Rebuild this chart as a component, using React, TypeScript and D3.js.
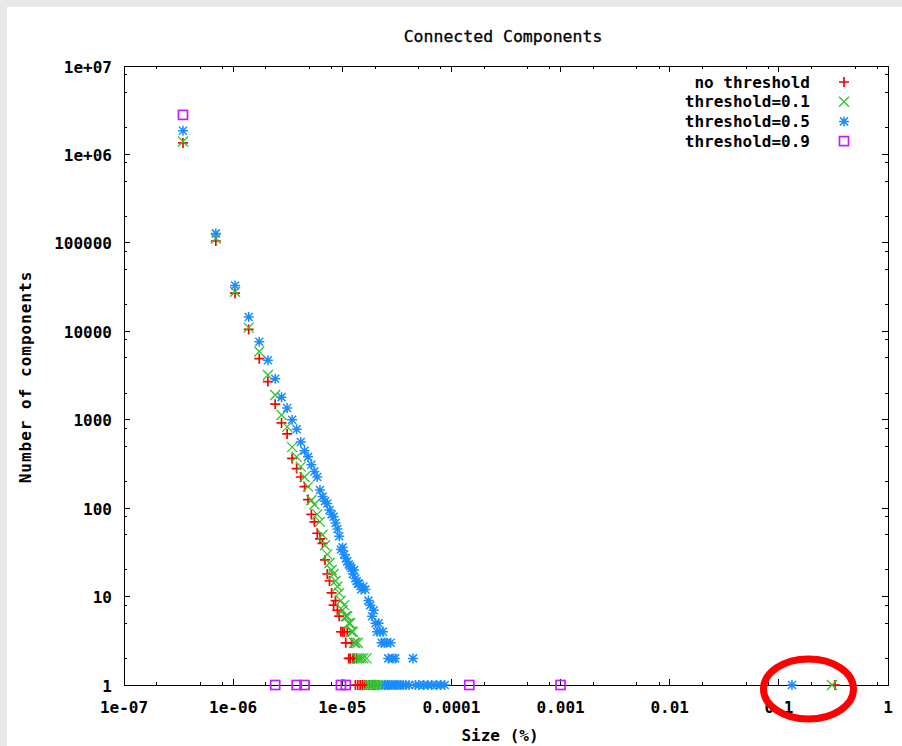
import React from "react";
import * as d3 from "d3";

// percent of all nodes taken by a single node
const UNIT_PCT = 3.47e-7;

// component size (nodes) and number of components of that size
const noThresholdSizes = [
  1, 2, 3, 4, 5, 6, 7, 8, 9, 10, 11, 12, 13, 14, 15, 16, 17, 18, 19, 20, 21, 22, 23, 24, 25, 26, 27, 28, 29, 30,
  31, 32, 33, 34, 35, 36, 37, 38, 39, 40, 42, 44, 46, 48, 51, 54, 58, 62, 942000,
];
const noThresholdCounts = [
  1350000, 105000, 27000, 10500, 4900, 2700, 1500, 920, 690, 365, 280, 225, 175, 125, 85, 70, 52, 45, 40, 26, 18, 15,
  11, 8, 9, 7, 6, 4, 4, 4, 3, 4, 2, 2, 3, 2, 2, 1, 2, 1, 1, 1, 1, 1, 1, 1, 1, 1, 1,
];

const t01Sizes = [
  1, 2, 3, 4, 5, 6, 7, 8, 9, 10, 11, 12, 13, 14, 15, 16, 17, 18, 19, 20, 21, 22, 23, 24, 25, 26, 27, 28, 29, 30, 31,
  32, 33, 34, 35, 36, 37, 38, 39, 40, 41, 43, 45, 48, 50, 52, 55, 58, 61, 64, 68, 884000,
];
const t01Counts = [
  1400000, 112000, 28000, 11000, 5900, 3200, 1900, 1130, 830, 490, 380, 295, 225, 175, 123, 110, 85, 70, 50, 38, 30,
  24, 20, 18, 15, 13, 11, 9, 7, 8, 6, 6, 5, 5, 4, 4, 3, 3, 2, 3, 2, 2, 2, 2, 1, 1, 1, 1, 1, 1, 1, 1,
];

const t05Sizes = [
  1, 2, 3, 4, 5, 6, 7, 8, 9, 10, 11, 12, 13, 14, 15, 16, 17, 18, 19, 20, 21, 22, 23, 24, 25, 26, 27, 28, 29, 30, 31,
  32, 33, 34, 35, 36, 37, 38, 39, 40, 41, 43, 45, 47, 50, 52, 54, 56, 58, 60, 62, 64, 66, 68, 70, 71, 73, 75, 76, 78,
  80, 82, 84, 86, 88, 90, 93, 98, 104, 110, 118, 128, 135, 145, 160, 175, 190, 210, 230, 250, 380000,
];
const t05Counts = [
  1850000, 128000, 33000, 14500, 7600, 4700, 2900, 1800, 1360, 1000, 780, 560, 445, 380, 310, 260, 225, 160, 135, 120,
  113, 95, 85, 80, 68, 58, 48, 34, 36, 30, 27, 25, 23, 22, 21, 18, 20, 16, 15, 14, 14, 12, 13, 12, 9, 8, 6, 7, 5, 4,
  5, 4, 3, 4, 3, 1, 3, 1, 2, 1, 3, 1, 2, 1, 2, 1, 1, 1, 1, 1, 1, 2, 1, 1, 1, 1, 1, 1, 1, 1, 1,
];

const t09Sizes = [1, 7, 11, 13, 28, 31, 420, 2880];
const t09Counts = [2800000, 1, 1, 1, 1, 1, 1, 1];

const seriesNames = ["no threshold", "threshold=0.1", "threshold=0.5", "threshold=0.9"];
const seriesColors = ["#ff0000", "#2ec42e", "#1a8cff", "#c020ff"];
const seriesShapes = ["plus", "cross", "star", "square"];

const xTickValues = [1e-7, 1e-6, 1e-5, 1e-4, 1e-3, 1e-2, 1e-1, 1];
const xTickLabels = ["1e-07", "1e-06", "1e-05", "0.0001", "0.001", "0.01", "0.1", "1"];
const yTickValues = [1, 10, 100, 1000, 10000, 100000, 1e6, 1e7];
const yTickLabels = ["1", "10", "100", "1000", "10000", "100000", "1e+06", "1e+07"];
const minorSteps = [2, 5, 8];

const W = 902;
const H = 746;
const plot = { left: 124, right: 888, top: 66, bottom: 685 };
const FONT = "'DejaVu Sans Mono', 'Liberation Mono', monospace";

const Marker = ({ shape, x, y, color }) => {
  const s = 5;
  if (shape === "plus")
    return <path d={`M${x - s},${y}H${x + s}M${x},${y - s}V${y + s}`} stroke={color} strokeWidth={1.7} fill="none" />;
  if (shape === "cross")
    return (
      <path
        d={`M${x - s},${y - s}L${x + s},${y + s}M${x - s},${y + s}L${x + s},${y - s}`}
        stroke={color}
        strokeWidth={1.3}
        fill="none"
      />
    );
  if (shape === "star")
    return (
      <path
        d={`M${x - s},${y}H${x + s}M${x},${y - s}V${y + s}M${x - s * 0.8},${y - s * 0.8}L${x + s * 0.8},${y + s * 0.8}M${x - s * 0.8},${y + s * 0.8}L${x + s * 0.8},${y - s * 0.8}`}
        stroke={color}
        strokeWidth={1.5}
        fill="none"
      />
    );
  return <rect x={x - s + 0.5} y={y - s + 0.5} width={2 * s - 1} height={2 * s - 1} stroke={color} strokeWidth={1.7} fill="none" />;
};

export default function App() {
  const x = d3.scaleLog().domain([1e-7, 1]).range([plot.left, plot.right]);
  const y = d3.scaleLog().domain([1, 1e7]).range([plot.bottom, plot.top]);

  const series = [
    { sizes: noThresholdSizes, counts: noThresholdCounts },
    { sizes: t01Sizes, counts: t01Counts },
    { sizes: t05Sizes, counts: t05Counts },
    { sizes: t09Sizes, counts: t09Counts },
  ].map((s, i) => ({
    name: seriesNames[i],
    color: seriesColors[i],
    shape: seriesShapes[i],
    points: s.sizes.map((k, j) => ({ pct: k * UNIT_PCT, count: s.counts[j] })),
  }));

  const xMinor = [];
  xTickValues.slice(0, -1).forEach((v) => minorSteps.forEach((m) => xMinor.push(v * m)));
  const yMinor = [];
  yTickValues.slice(0, -1).forEach((v) => minorSteps.forEach((m) => yMinor.push(v * m)));

  // circle drawn around the giant components
  const giantBlue = series[2].points[series[2].points.length - 1];
  const giantRed = series[0].points[series[0].points.length - 1];
  const ringX = (x(giantBlue.pct) + x(giantRed.pct)) / 2 - 5;
  const ringY = y(1) + 4;

  const major = 6;
  const minor = 3;

  return (
    <svg width={W} height={H} style={{ position: "absolute", left: 0, top: 0 }} fontFamily={FONT}>
      <rect width={W} height={H} fill="#e8e8e8" />
      <rect x={7} y={7} width={W - 7} height={H - 7} fill="#ffffff" />

      <text x={503} y={42} textAnchor="middle" fontSize={16.5} fill="#000" stroke="#000" strokeWidth={0.3}>
        Connected Components
      </text>

      {/* ticks on all four sides */}
      <g stroke="#000" strokeWidth={1} shapeRendering="crispEdges">
        {xTickValues.map((v) => (
          <g key={"xt" + v}>
            <line x1={x(v)} x2={x(v)} y1={plot.bottom} y2={plot.bottom - major} />
            <line x1={x(v)} x2={x(v)} y1={plot.top} y2={plot.top + major} />
          </g>
        ))}
        {xMinor.map((v) => (
          <g key={"xm" + v}>
            <line x1={x(v)} x2={x(v)} y1={plot.bottom} y2={plot.bottom - minor} />
            <line x1={x(v)} x2={x(v)} y1={plot.top} y2={plot.top + minor} />
          </g>
        ))}
        {yTickValues.map((v) => (
          <g key={"yt" + v}>
            <line x1={plot.left} x2={plot.left + major} y1={y(v)} y2={y(v)} />
            <line x1={plot.right} x2={plot.right - major} y1={y(v)} y2={y(v)} />
          </g>
        ))}
        {yMinor.map((v) => (
          <g key={"ym" + v}>
            <line x1={plot.left} x2={plot.left + minor} y1={y(v)} y2={y(v)} />
            <line x1={plot.right} x2={plot.right - minor} y1={y(v)} y2={y(v)} />
          </g>
        ))}
        <rect
          x={plot.left}
          y={plot.top}
          width={plot.right - plot.left}
          height={plot.bottom - plot.top}
          fill="none"
        />
      </g>

      <g fontSize={16} fontWeight="bold" fill="#000">
        {xTickValues.map((v, i) => (
          <text key={"xl" + v} x={x(v)} y={713} textAnchor="middle">
            {xTickLabels[i]}
          </text>
        ))}
        {yTickValues.map((v, i) => (
          <text key={"yl" + v} x={112} y={y(v) + 1} textAnchor="end" dominantBaseline="central">
            {yTickLabels[i]}
          </text>
        ))}
      </g>

      <text x={500} y={741} textAnchor="middle" fontSize={16} fontWeight="bold">
        Size (%)
      </text>
      <text
        transform={`translate(31,${377}) rotate(-90)`}
        textAnchor="middle"
        fontSize={16}
        fontWeight="bold"
        letterSpacing={1}
      >
        Number of components
      </text>

      {series.map((s) => (
        <g key={s.name}>
          {s.points.map((p, j) => (
            <Marker key={j} shape={s.shape} x={x(p.pct)} y={y(p.count)} color={s.color} />
          ))}
        </g>
      ))}

      {/* legend */}
      {series.map((s, i) => (
        <g key={"lg" + s.name}>
          <text x={810} y={82 + i * 19.7} textAnchor="end" dominantBaseline="central" fontSize={16} fontWeight="bold">
            {s.name}
          </text>
          <Marker shape={s.shape} x={844} y={82 + i * 19.7} color={s.color} />
        </g>
      ))}

      <ellipse cx={ringX} cy={ringY} rx={45} ry={30} fill="none" stroke="#ff0000" strokeWidth={7} />
    </svg>
  );
}
